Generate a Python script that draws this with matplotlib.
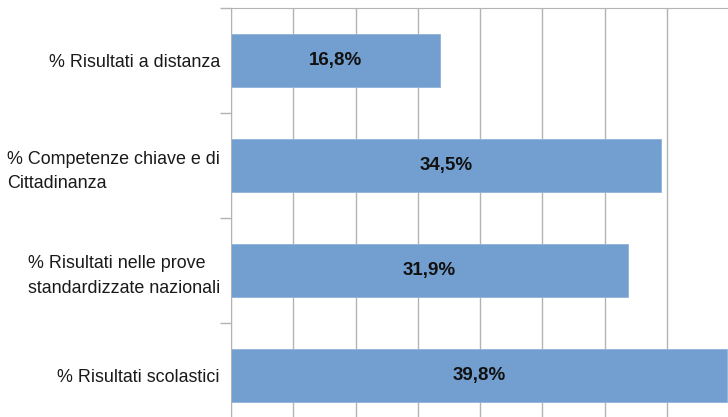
import matplotlib
matplotlib.use('Agg')
import matplotlib.pyplot as plt
from matplotlib.ticker import FixedLocator, MultipleLocator

# data, top to bottom
categories = ['% Risultati a distanza',
              '% Competenze chiave e di\nCittadinanza',
              '% Risultati nelle prove\nstandardizzate nazionali',
              '% Risultati scolastici']
values = [16.8, 34.5, 31.9, 39.8]
value_labels = ['16,8%', '34,5%', '31,9%', '39,8%']

fonts = ['Liberation Sans Narrow', 'Liberation Sans', 'DejaVu Sans']
plt.rcParams['font.family'] = fonts

W, H = 728, 417
fig = plt.figure(figsize=(W / 100, H / 100), dpi=100)
# plot area runs past the bottom/right edge, as in the cropped original
x0, x1 = 231, 729
y_top, y_bot = 8, 428
ax = fig.add_axes([x0 / W, (H - y_bot) / H, (x1 - x0) / W, (y_bot - y_top) / H])

pos = list(range(len(categories)))
ax.barh(pos, values, height=0.5, color='#729fcf', edgecolor='#8fb3da', linewidth=0.6, zorder=2)
for p, v, lab in zip(pos, values, value_labels):
    ax.text(v / 2, p, lab, ha='center', va='center', fontsize=13.5, fontweight='bold',
            color='#111111', zorder=3)

ax.set_xlim(0, 40)
ax.set_ylim(len(categories) - 0.5, -0.5)
ax.xaxis.set_major_locator(MultipleLocator(5))
ax.grid(axis='x', color='#b3b3b3', linewidth=1, zorder=0)
ax.tick_params(axis='x', length=0, labelbottom=False)

ax.set_yticks(pos)
ax.set_yticklabels(categories, fontsize=12.9, color='#1a1a1a', linespacing=1.55,
                   multialignment='left')
ax.tick_params(axis='y', which='major', length=0, pad=8)
ax.yaxis.set_minor_locator(FixedLocator([-0.5, 0.5, 1.5, 2.5]))
ax.tick_params(axis='y', which='minor', length=8, width=1, color='#b3b3b3', direction='out')

for s in ['right', 'bottom']:
    ax.spines[s].set_visible(False)
ax.spines['left'].set_color('#b3b3b3')
ax.spines['top'].set_color('#b3b3b3')

fig.savefig('out.png', dpi=100)
